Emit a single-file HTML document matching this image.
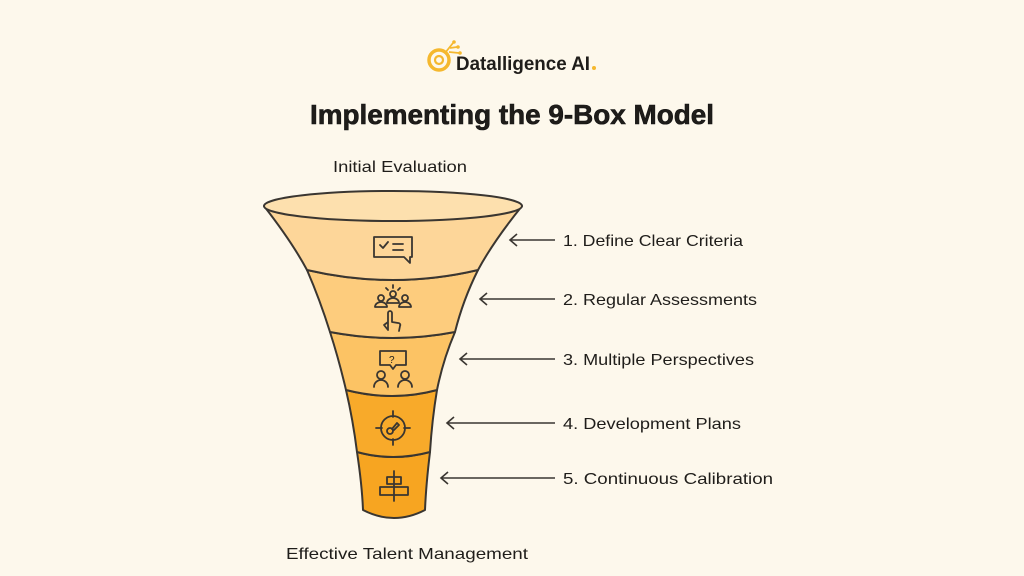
<!DOCTYPE html>
<html><head><meta charset="utf-8"><style>
html,body{margin:0;padding:0;background:#fdf8ec;}
svg{display:block}
text{font-family:"Liberation Sans",sans-serif;fill:#1f1d1a}
</style></head><body>
<svg width="1024" height="576" viewBox="0 0 1024 576" xmlns="http://www.w3.org/2000/svg">
<rect width="1024" height="576" fill="#fdf8ec"/>
<!-- logo -->
<circle cx="439" cy="60" r="10" fill="none" stroke="#f5b82e" stroke-width="3.5"/>
<circle cx="439" cy="60" r="4" fill="none" stroke="#f5b82e" stroke-width="2.2"/>
<path d="M445 53 L453 43 M450 48 L457 47 M449 52 L459 53" stroke="#f5b82e" stroke-width="1.8" fill="none"/>
<circle cx="454" cy="42" r="1.8" fill="#f5b82e"/><circle cx="458" cy="47" r="1.8" fill="#f5b82e"/><circle cx="460" cy="53" r="1.8" fill="#f5b82e"/>
<text x="456" y="70" font-size="19" font-weight="bold" fill="#111" textLength="134" lengthAdjust="spacingAndGlyphs">Datalligence AI</text>
<circle cx="594" cy="68" r="2" fill="#f5b82e"/>
<text x="310" y="124" font-size="28" font-weight="bold" fill="#111" stroke="#111" stroke-width="0.6" textLength="404" lengthAdjust="spacingAndGlyphs">Implementing the 9-Box Model</text>
<text x="333" y="172" font-size="16" textLength="134" lengthAdjust="spacingAndGlyphs">Initial Evaluation</text>
<text x="286" y="559" font-size="16" textLength="242" lengthAdjust="spacingAndGlyphs">Effective Talent Management</text>

<g stroke="#3a3631" stroke-width="2" stroke-linejoin="round">
<path d="M357 452 Q393 462 430 452 Q426 485 425 510 Q394 526 363 510 Q362 485 357 452Z" fill="#f7a521"/>
<path d="M346 390 Q393 402 437 390 Q432 420 430 452 Q393 462 357 452 Q353 420 346 390Z" fill="#f8aa2a"/>
<path d="M330 332 Q393 344 455 332 Q443 360 437 390 Q393 402 346 390 Q339 360 330 332Z" fill="#fcc364"/>
<path d="M307 270 Q393 290 478 270 Q463 300 455 332 Q393 344 330 332 Q320 300 307 270Z" fill="#fdcc7d"/>
<path d="M264 206 Q292 242 307 270 Q393 290 478 270 Q493 242 522 206Z" fill="#fdd699"/>
<ellipse cx="393" cy="206" rx="129" ry="15" fill="#fde0ae"/>
</g>

<!-- icons -->
<g stroke="#3a3631" stroke-width="1.8" fill="none" stroke-linecap="round" stroke-linejoin="round">
<path d="M374 237 h38 v20 h-2 v6 l-6 -6 h-30Z"/>
<path d="M380 245 l3 3 l5 -6 M393 244 h10 M393 250 h10"/>
<circle cx="393" cy="294" r="3"/><path d="M387 303 a6 5 0 0 1 12 0Z"/>
<circle cx="381" cy="298" r="3"/><path d="M375 307 a6 5 0 0 1 12 0Z"/>
<circle cx="405" cy="298" r="3"/><path d="M399 307 a6 5 0 0 1 12 0Z"/>
<path d="M393 285 v3 M386 288 l2 2 M400 288 l-2 2"/>
<path d="M388 330 v-17 a2 2 0 0 1 4 0 v9 l6 1 a2 2 0 0 1 2 3 l-1 5 M388 322 l-4 3 l4 5"/>
<path d="M380 351 h26 v14 h-10 l-3 4 l-3 -4 h-10Z"/>
<text x="389" y="363" font-size="10" stroke="none" fill="#3a3631">?</text>
<circle cx="381" cy="375" r="4"/><path d="M374 387 a7 7 0 0 1 14 0"/>
<circle cx="405" cy="375" r="4"/><path d="M398 387 a7 7 0 0 1 14 0"/>
<circle cx="393" cy="428" r="12"/><path d="M393 411 v6 M393 439 v6 M376 428 h6 M404 428 h6"/>
<circle cx="390" cy="431" r="3"/><path d="M392 429 l5 -6 l2 2 l-5 5"/>
<path d="M394 471 v30"/><rect x="387" y="477" width="14" height="7"/><rect x="380" y="487" width="28" height="8"/>
</g>

<!-- arrows -->
<g stroke="#3a3631" stroke-width="1.6" fill="none">
<path d="M510 240 H555 M517 234 L510 240 L517 246"/>
<path d="M480 299 H555 M487 293 L480 299 L487 305"/>
<path d="M460 359 H555 M467 353 L460 359 L467 365"/>
<path d="M447 423 H555 M454 417 L447 423 L454 429"/>
<path d="M441 478 H555 M448 472 L441 478 L448 484"/>
</g>
<g font-size="16">
<text x="563" y="246" textLength="180" lengthAdjust="spacingAndGlyphs">1. Define Clear Criteria</text>
<text x="563" y="305" textLength="194" lengthAdjust="spacingAndGlyphs">2. Regular Assessments</text>
<text x="563" y="365" textLength="191" lengthAdjust="spacingAndGlyphs">3. Multiple Perspectives</text>
<text x="563" y="429" textLength="178" lengthAdjust="spacingAndGlyphs">4. Development Plans</text>
<text x="563" y="484" textLength="210" lengthAdjust="spacingAndGlyphs">5. Continuous Calibration</text>
</g>
</svg>
</body></html>
